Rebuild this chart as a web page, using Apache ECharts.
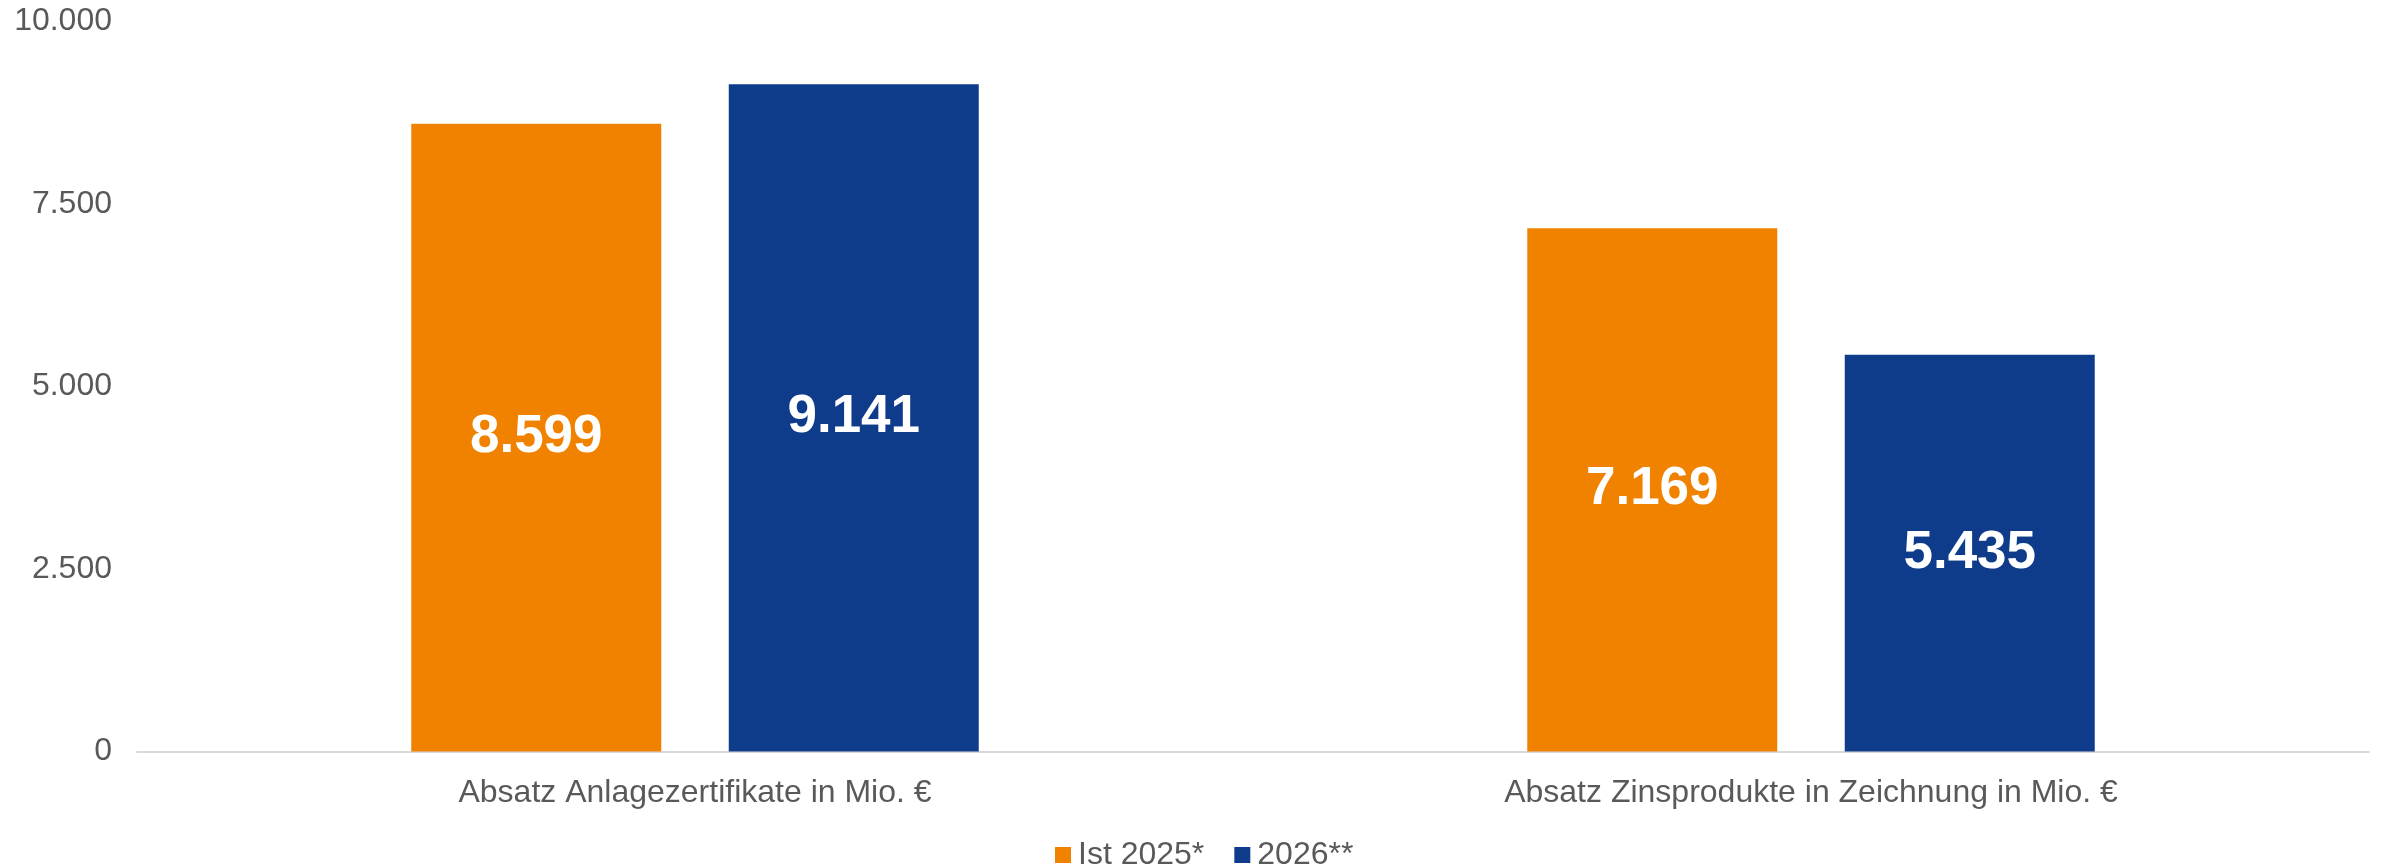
<!DOCTYPE html>
<html>
<head>
<meta charset="utf-8">
<title>Absatz</title>
<script src="https://cdn.jsdelivr.net/npm/echarts@6/dist/echarts.min.js"></script>
<style>
  html, body { margin: 0; padding: 0; background: #fff; }
  #chart { width: 2392px; height: 865px; }
</style>
</head>
<body>
<div id="chart"></div>
<script>
const categories = ['Absatz Anlagezertifikate in Mio. €', 'Absatz Zinsprodukte in Zeichnung in Mio. €']
const seriesNames = ['Ist 2025*', '2026**']
const ist2025 = [8599, 7169]
const plan2026 = [9141, 5435]
const yTicks = [0, 2500, 5000, 7500, 10000]

const textColor = '#595959'
const fontFamily = '"Liberation Sans", Arial, sans-serif'

// deutsches Tausendertrennzeichen
const fmt = v => String(v).replace(/\B(?=(\d{3})+(?!\d))/g, '.')

const myChart = echarts.init(document.getElementById('chart'))

const barLabel = {
  show: true,
  position: 'inside',
  color: '#fff',
  fontSize: 53,
  fontWeight: 'bold',
  fontFamily,
  formatter: p => fmt(p.value)
}

myChart.setOption({
  animation: false,
  textStyle: { fontFamily },
  grid: { left: 137, right: 23, top: 21.5, bottom: 113.5 },
  legend: {
    data: seriesNames,
    left: 1050,
    top: 834,
    itemWidth: 16,
    itemHeight: 16,
    itemGap: 30,
    icon: 'rect',
    textStyle: { color: textColor, fontSize: 32, fontFamily, padding: [0, 0, 0, 2] }
  },
  xAxis: {
    type: 'category',
    data: categories,
    axisTick: { show: false },
    axisLine: { lineStyle: { color: '#D9D9D9', width: 2 } },
    axisLabel: { color: textColor, fontSize: 32, margin: 26, fontFamily }
  },
  yAxis: {
    type: 'value',
    min: yTicks[0],
    max: yTicks[yTicks.length - 1],
    interval: yTicks[1] - yTicks[0],
    splitLine: { show: false },
    axisLine: { show: false },
    axisTick: { show: false },
    axisLabel: { color: textColor, fontSize: 32, margin: 25, fontFamily, formatter: fmt }
  },
  series: [{
    name: seriesNames[0],
    type: 'bar',
    data: ist2025,
    barWidth: 250,
    barGap: '27%',
    itemStyle: { color: '#F08200' },
    label: barLabel
  }, {
    name: seriesNames[1],
    type: 'bar',
    data: plan2026,
    barWidth: 250,
    itemStyle: { color: '#0F3C8A' },
    label: barLabel
  }]
})
</script>
</body>
</html>
